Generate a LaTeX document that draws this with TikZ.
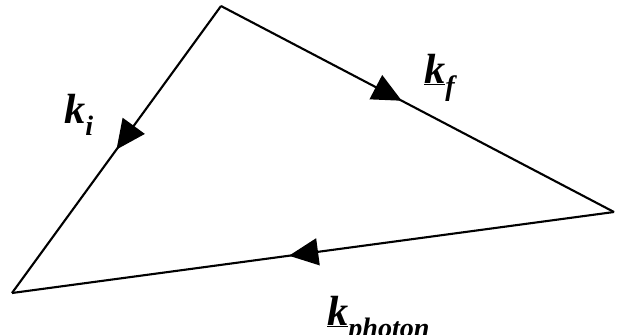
\documentclass[tikz,border=0pt]{standalone}
\usepackage{fontspec}
\setmainfont{Liberation Serif}
\usepackage{tikz}
\usetikzlibrary{arrows.meta,decorations.markings}

\newcommand{\wsub}[1]{\raisebox{-0.3em}{\fontsize{24}{26}\selectfont\textbf{\textit{#1}}}}
\newcommand{\wvec}[1]{\textbf{\textit{k}}\wsub{#1}}
\newcommand{\wvecu}[1]{\underline{\textbf{\textit{k}}}\wsub{#1}}

\begin{document}
\begin{tikzpicture}[
  x=0.03cm, y=-0.03cm,
  edge/.style={line width=1.8pt, postaction={decorate},
    decoration={markings, mark=at position #1 with {\arrow{Triangle[length=25pt,width=23pt]}}}},
  lbl/.style={inner sep=0pt, anchor=base west, font=\fontsize{36}{40}\selectfont}]
\clip (0,0) rectangle (624,334);
\coordinate (top) at (221,6);
\coordinate (lft) at (12,293);
\coordinate (rgt) at (614,212);
\draw[edge=0.5] (top) -- (lft);
\draw[edge=0.46] (top) -- (rgt);
\draw[edge=0.54] (rgt) -- (lft);
\node[lbl] (ki) at (64,123) {\wvec{i}};
\node[lbl] (kf) at (424,83) {\wvecu{f}};
\node[lbl] (kph) at (327,325) {\wvecu{photon}};
\end{tikzpicture}
\end{document}
